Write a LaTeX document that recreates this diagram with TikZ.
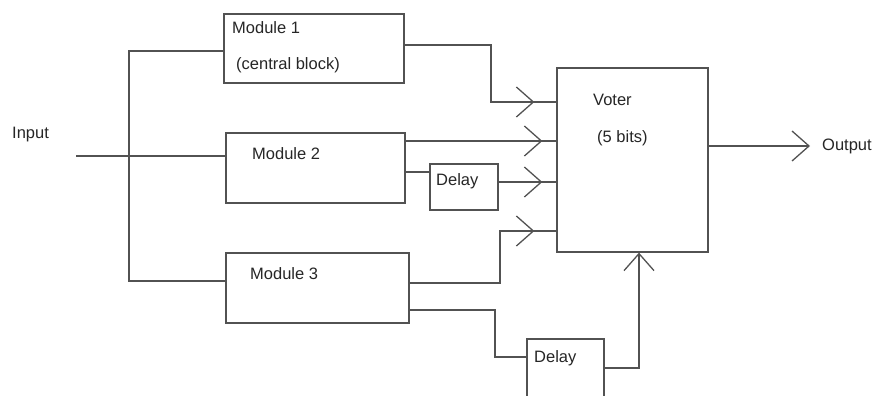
\documentclass[tikz,border=0pt]{standalone}
\usepackage{fontspec}
\setmainfont{Liberation Sans}
\usetikzlibrary{arrows.meta,decorations.markings}
\begin{document}
\begin{tikzpicture}[x=1pt,y=-1pt,
  wire/.style={draw=black!68, line width=1.3pt},
  blk/.style={draw=black!68, line width=1.3pt, rectangle, inner sep=0pt},
  txt/.style={anchor=west, inner sep=0pt, font=\fontsize{16.5}{19}\selectfont, text=black!85},
  barb/.style={-{Straight Barb[length=17pt,width=30pt,line width=1.3pt]}},
  midbarb/.style={postaction={decorate}, decoration={markings,
     mark=at position #1 with {\arrow{Straight Barb[length=17pt,width=30pt,line width=1.3pt]}}}}
]
\useasboundingbox (0,0) rectangle (881,396);
\clip (0,0) rectangle (881,396);

% blocks
\node[blk, minimum width=180pt, minimum height=69pt] (m1) at (314,48.5) {};
\node[blk, minimum width=179pt, minimum height=70pt] (m2) at (315.5,168) {};
\node[blk, minimum width=183pt, minimum height=70pt] (m3) at (317.5,288) {};
\node[blk, minimum width=68pt, minimum height=46pt] (d1) at (464,187) {};
\node[blk, minimum width=77pt, minimum height=81pt] (d2) at (565.5,379.5) {};
\node[blk, minimum width=151pt, minimum height=184pt] (v) at (632.5,160) {};

% texts
\node[txt] (tin) at (12,135) {Input};
\node[txt] (t1a) at (232,28) {Module 1};
\node[txt] (t1b) at (236,65) {(central block)};
\node[txt] (t2) at (252,154) {Module 2};
\node[txt] (t3) at (250,274) {Module 3};
\node[txt] (td1) at (436,181) {Delay};
\node[txt] (td2) at (534,358) {Delay};
\node[txt] (tv1) at (593,100) {Voter};
\node[txt] (tv2) at (597,138) {(5 bits)};
\node[txt] (tout) at (822,146) {Output};

% input fan-out
\coordinate (in) at (76,156);
\coordinate (b1) at (129,51);
\coordinate (b3) at (129,281);
\draw[wire] (in) -- (in -| m2.west);
\draw[wire] (m1.west |- b1) -- (b1) -- (b3) -- (m3.west |- b3);

% module 1 to voter
\coordinate (o1) at (404,45);
\coordinate (k1) at (491,45);
\coordinate (k1b) at (491,102);
\draw[wire, midbarb=-22pt] (o1) -- (k1) -- (k1b) -- (k1b -| v.west);

% module 2 to voter, direct and through delay
\coordinate (o2) at (405,141);
\draw[wire, midbarb=-14pt] (o2) -- (o2 -| v.west);
\coordinate (o2b) at (405,172);
\draw[wire] (o2b) -- (o2b -| d1.west);
\coordinate (od1) at (498,182);
\draw[wire, midbarb=-14pt] (od1) -- (od1 -| v.west);

% module 3 to voter, direct and through delay
\coordinate (o3) at (409,283);
\coordinate (k3) at (500,283);
\coordinate (k3b) at (500,231);
\draw[wire, midbarb=-22pt] (o3) -- (k3) -- (k3b) -- (k3b -| v.west);
\coordinate (o3b) at (409,310);
\coordinate (k4) at (495,310);
\coordinate (k4b) at (495,357);
\draw[wire] (o3b) -- (k4) -- (k4b) -- (k4b -| d2.west);
\coordinate (od2) at (604,368);
\coordinate (k5) at (639,368);
\draw[wire, barb] (od2) -- (k5) -- (k5 |- v.south);

% voter output
\coordinate (ov) at (708,146);
\coordinate (oe) at (810,146);
\draw[wire, barb] (ov) -- (oe);
\end{tikzpicture}
\end{document}
